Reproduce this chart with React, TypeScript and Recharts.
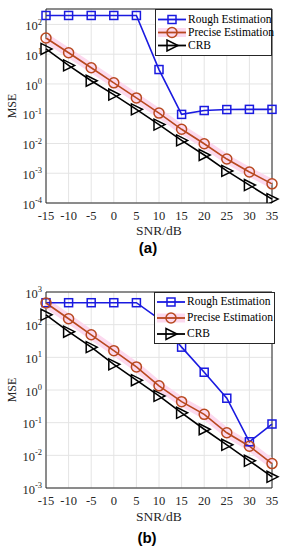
import React from 'react';
import {
    LineChart,
    Line,
    XAxis,
    YAxis,
    CartesianGrid,
    ReferenceArea,
    Legend,
} from 'recharts';

// ---------------------------------------------------------------------------
// data
// ---------------------------------------------------------------------------

const snr = [-15, -10, -5, 0, 5, 10, 15, 20, 25, 30, 35];
const snrTicks = [-15, -10, -5, 0, 5, 10, 15, 20, 25, 30, 35];

// panel (a)
const roughA = [200, 200, 200, 200, 200, 3.05, 0.095, 0.128, 0.138, 0.14, 0.14];
const preciseA = [35, 11.2, 3.5, 1.09, 0.34, 0.105, 0.03, 0.0098, 0.003, 0.0011, 0.00044];
const crbA = [15, 4.2, 1.28, 0.44, 0.14, 0.043, 0.0127, 0.0041, 0.0012, 0.0004, 0.000135];
const ticksA = [1e-4, 1e-3, 1e-2, 1e-1, 1, 10, 100];

// panel (b)
const roughB = [470, 470, 470, 470, 470, 150, 20.5, 3.5, 0.56, 0.026, 0.091];
const preciseB = [460, 152, 49, 16, 5.1, 1.34, 0.44, 0.18, 0.049, 0.019, 0.0056];
const crbB = [200, 61, 20.5, 6.1, 2.0, 0.66, 0.2, 0.063, 0.021, 0.0068, 0.0022];
const ticksB = [1e-3, 1e-2, 1e-1, 1, 10, 100, 1000];

const seriesNames = ['Rough Estimation', 'Precise Estimation', 'CRB'];

// ---------------------------------------------------------------------------

const SERIF = '"Liberation Serif", "Times New Roman", serif';
const BLUE = '#1a1ae0';
const BROWN = '#b8481f';
const BLACK = '#000000';
const HALO = '#fcd9ee';
const GRID = '#e4e4e4';
const AXIS = '#262626';

const buildRows = (rough: number[], precise: number[], crb: number[]) =>
    snr.map((s, i) => ({ snr: s, rough: rough[i], precise: precise[i], crb: crb[i] }));

function Square({ cx, cy, color }: { cx: number; cy: number; color: string }) {
    return <rect x={cx - 4} y={cy - 4} width={8} height={8} fill="none" stroke={color} strokeWidth={1.5} />;
}

function Ring({ cx, cy, color }: { cx: number; cy: number; color: string }) {
    return <circle cx={cx} cy={cy} r={5} fill="none" stroke={color} strokeWidth={1.5} />;
}

function Tri({ cx, cy, color }: { cx: number; cy: number; color: string }) {
    const pts = `${cx - 5},${cy - 5.5} ${cx - 5},${cy + 5.5} ${cx + 6},${cy}`;
    return <polygon points={pts} fill="none" stroke={color} strokeWidth={1.5} strokeLinejoin="miter" />;
}

const markers = [
    { Mark: Square, color: BLUE },
    { Mark: Ring, color: BROWN },
    { Mark: Tri, color: BLACK },
];

// 10^n style tick for the log axis
function PowerTick(props: any) {
    const { x, y, payload } = props;
    const exp = Math.round(Math.log10(payload.value));
    return (
        <text x={x} y={y} textAnchor="end" fontFamily={SERIF} fontSize={12.5} fill={AXIS}>
            <tspan dy="0.45em">10</tspan>
            <tspan dy="-0.65em" fontSize={8.5}>{exp}</tspan>
        </text>
    );
}

function LegendBox({ rowH, padTop }: { rowH: number; padTop: number }) {
    return (
        <div
            style={{
                background: '#fff',
                border: `1px solid ${AXIS}`,
                paddingTop: padTop,
                paddingBottom: padTop,
                boxSizing: 'border-box',
            }}
        >
            {seriesNames.map((name, i) => {
                const { Mark, color } = markers[i];
                const mid = rowH / 2;
                return (
                    <div key={name} style={{ display: 'flex', alignItems: 'center', height: rowH }}>
                        <svg width={32} height={rowH} style={{ display: 'block', flex: 'none' }}>
                            {i === 1 && <line x1={2} x2={30} y1={mid} y2={mid} stroke={HALO} strokeWidth={9} />}
                            <line x1={2} x2={30} y1={mid} y2={mid} stroke={color} strokeWidth={1.8} />
                            <Mark cx={16} cy={mid} color={color} />
                        </svg>
                        <span
                            style={{
                                fontFamily: SERIF,
                                fontSize: 11.5,
                                color: '#000',
                                whiteSpace: 'nowrap',
                                lineHeight: 1,
                            }}
                        >
                            {name}
                        </span>
                    </div>
                );
            })}
        </div>
    );
}

interface PanelProps {
    rows: ReturnType<typeof buildRows>;
    ticks: number[];
    yMax: number;
    height: number;
    marginTop: number;
    xAxisHeight: number;
    titleOffset: number;
    legend: { left: number; top: number; width: number; rowH: number; padTop: number };
}

function Panel({ rows, ticks, yMax, height, marginTop, xAxisHeight, titleOffset, legend }: PanelProps) {
    const yMin = ticks[0];
    const keys = ['rough', 'precise', 'crb'];
    return (
        <LineChart
            width={285}
            height={height}
            data={rows}
            margin={{ top: marginTop, right: 13, bottom: 0, left: 0 }}
        >
            <CartesianGrid stroke={GRID} strokeWidth={1} />
            <XAxis
                type="number"
                dataKey="snr"
                domain={[-15, 35]}
                ticks={snrTicks}
                height={xAxisHeight}
                axisLine={false}
                tickLine={false}
                tickSize={0}
                tickMargin={8}
                tick={{ fontFamily: SERIF, fontSize: 12.5, fill: AXIS }}
                label={{
                    value: 'SNR/dB',
                    position: 'insideBottom',
                    offset: titleOffset,
                    style: { fontFamily: SERIF, fontSize: 13.5, fill: AXIS },
                }}
            />
            <YAxis
                type="number"
                scale="log"
                domain={[yMin, yMax]}
                allowDataOverflow
                ticks={ticks}
                width={46}
                axisLine={false}
                tickLine={false}
                tickSize={0}
                tickMargin={4}
                tick={<PowerTick />}
                label={{
                    value: 'MSE',
                    angle: -90,
                    position: 'insideLeft',
                    offset: 12,
                    style: { fontFamily: SERIF, fontSize: 12, fill: AXIS, textAnchor: 'middle' },
                }}
            />
            <ReferenceArea x1={-15} x2={35} y1={yMin} y2={yMax} fill="none" stroke={AXIS} strokeWidth={1} />
            <Line
                dataKey="precise"
                stroke={HALO}
                strokeWidth={9}
                dot={false}
                legendType="none"
                isAnimationActive={false}
            />
            {keys.map((k, i) => {
                const { Mark, color } = markers[i];
                return (
                    <Line
                        key={k}
                        dataKey={k}
                        name={seriesNames[i]}
                        stroke={color}
                        strokeWidth={1.6}
                        isAnimationActive={false}
                        dot={(p: any) => <Mark key={`${k}-${p.index}`} cx={p.cx} cy={p.cy} color={color} />}
                    />
                );
            })}
            <Legend
                layout="vertical"
                align="center"
                verticalAlign="middle"
                wrapperStyle={{ left: legend.left, top: legend.top, width: legend.width }}
                content={() => <LegendBox rowH={legend.rowH} padTop={legend.padTop} />}
            />
        </LineChart>
    );
}

const captionStyle: React.CSSProperties = {
    position: 'absolute',
    width: 40,
    textAlign: 'center',
    fontFamily: '"Liberation Sans", Arial, sans-serif',
    fontWeight: 'bold',
    fontSize: 15,
    color: '#000',
    lineHeight: 1,
};

export default function App() {
    return (
        <div style={{ position: 'absolute', left: 0, top: 0, width: 285, height: 550, background: '#fff' }}>
            <div style={{ position: 'absolute', left: 0, top: 0 }}>
                <Panel
                    rows={buildRows(roughA, preciseA, crbA)}
                    ticks={ticksA}
                    yMax={330}
                    height={262}
                    marginTop={9}
                    xAxisHeight={59}
                    titleOffset={27}
                    legend={{ left: 155, top: 9, width: 117, rowH: 13, padTop: 3 }}
                />
            </div>
            <div style={{ ...captionStyle, left: 128, top: 240 }}>(a)</div>
            <div style={{ position: 'absolute', left: 0, top: 270 }}>
                <Panel
                    rows={buildRows(roughB, preciseB, crbB)}
                    ticks={ticksB}
                    yMax={1000}
                    height={275}
                    marginTop={22}
                    xAxisHeight={57}
                    titleOffset={24}
                    legend={{ left: 154, top: 22, width: 121, rowH: 16, padTop: 1 }}
                />
            </div>
            <div style={{ ...captionStyle, left: 127, top: 530 }}>(b)</div>
        </div>
    );
}
